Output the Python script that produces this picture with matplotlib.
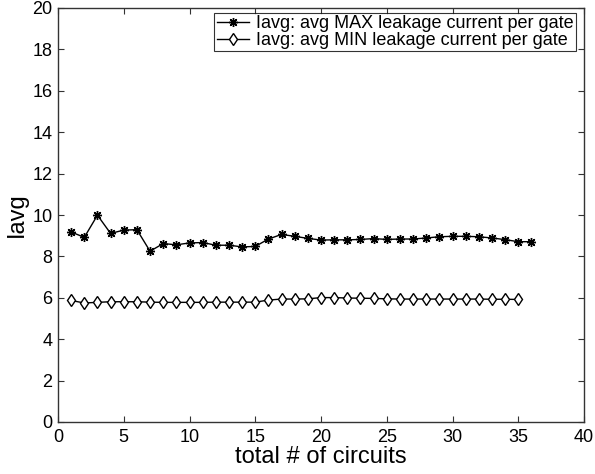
import matplotlib
matplotlib.use("Agg")
import matplotlib.pyplot as plt

plt.rcParams['font.family'] = ['Liberation Sans', 'DejaVu Sans']

# circuit index for each series
circuits_max = list(range(1, 37))
circuits_min = list(range(1, 36))

# avg MAX leakage current per gate
iavg_max = [9.18, 8.92, 9.99, 9.11, 9.27, 9.29, 8.25, 8.62, 8.56, 8.65,
            8.67, 8.54, 8.54, 8.46, 8.48, 8.84, 9.06, 8.97, 8.87, 8.79,
            8.80, 8.80, 8.82, 8.86, 8.82, 8.84, 8.84, 8.89, 8.95, 8.97,
            8.97, 8.95, 8.89, 8.81, 8.71, 8.71]

# avg MIN leakage current per gate
iavg_min = [5.87, 5.75, 5.78, 5.81, 5.81, 5.81, 5.79, 5.78, 5.78, 5.78,
            5.78, 5.79, 5.79, 5.79, 5.79, 5.89, 5.94, 5.94, 5.95, 6.01,
            6.01, 5.99, 5.98, 5.97, 5.95, 5.94, 5.94, 5.94, 5.94, 5.94,
            5.94, 5.94, 5.93, 5.93, 5.92]

fig = plt.figure(figsize=(5.95, 4.74), dpi=100)
ax = fig.add_axes([58/595, 1 - 422/474, 526/595, 414/474])

# matlab-ish asterisk marker: 8 spokes
ax.plot(circuits_max, iavg_max, color='black', lw=1, marker=(8, 2, 0), ms=6.5,
        mew=1.0, label='Iavg: avg MAX leakage current per gate')
ax.plot(circuits_min, iavg_min, color='black', lw=1, marker='d', ms=6.5,
        mfc='white', mec='black', mew=1,
        label='Iavg: avg MIN leakage current per gate')

ax.set_xlim(0, 40)
ax.set_ylim(0, 20)
ax.set_xticks(range(0, 41, 5))
ax.set_yticks(range(0, 21, 2))
ax.tick_params(direction='in', top=True, right=True, length=4,
               labelsize=13, color='#333333')
ax.tick_params(axis='x', pad=5)
ax.tick_params(axis='y', pad=4)
for s in ax.spines.values():
    s.set_color('#333333')
    s.set_linewidth(1)

ax.set_xlabel('total # of circuits', fontsize=17, labelpad=0)
ax.set_ylabel('Iavg', fontsize=17, labelpad=3)

leg = ax.legend(loc='upper right', fontsize=13, frameon=True, fancybox=False,
                edgecolor='black', borderpad=0.12, labelspacing=0.0,
                handlelength=1.8, handletextpad=0.4, borderaxespad=0.0,
                bbox_to_anchor=(0.985, 0.988))
leg.get_frame().set_linewidth(0.8)

fig.savefig('out.png', dpi=100)
